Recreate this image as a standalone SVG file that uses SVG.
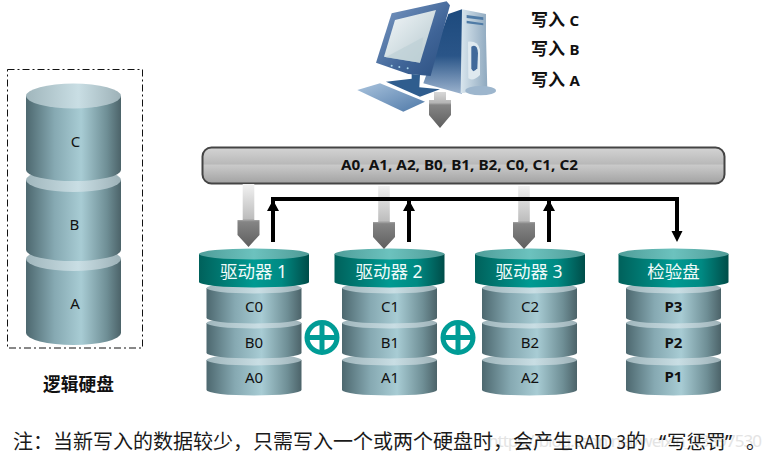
<svg xmlns="http://www.w3.org/2000/svg" width="770" height="455" viewBox="0 0 770 455">
<style>
text{font-family:"Noto Sans","Noto Sans CJK SC",sans-serif;fill:#111}
.m{text-anchor:middle}
.d{font-size:15px}
.b{font-weight:700}
.h{font-size:17.5px;fill:#f2fbfa}
.n{font-size:20px;fill:#1a1a1a}
.blk{fill:none;stroke:#000;stroke-width:4}
.ah{fill:#000}
.x{fill:none;stroke:#009c96;stroke-width:5}
</style>
<defs>
<linearGradient id="gb"><stop offset="0" stop-color="#4d686f"/><stop offset=".3" stop-color="#86a9b2"/><stop offset=".58" stop-color="#a8ccd4"/><stop offset=".85" stop-color="#6f8f96"/><stop offset="1" stop-color="#4c6369"/></linearGradient>
<linearGradient id="gt"><stop offset="0" stop-color="#a0b6bc"/><stop offset=".55" stop-color="#c9dee4"/><stop offset="1" stop-color="#9db1b7"/></linearGradient>
<linearGradient id="hb"><stop offset="0" stop-color="#00615b"/><stop offset=".5" stop-color="#009a92"/><stop offset=".75" stop-color="#008a83"/><stop offset="1" stop-color="#004d49"/></linearGradient>
<linearGradient id="ht"><stop offset="0" stop-color="#4f9d99"/><stop offset=".5" stop-color="#6cc2be"/><stop offset="1" stop-color="#4f9a96"/></linearGradient>
<linearGradient id="ar" x2="0" y2="1"><stop offset="0" stop-color="#f2f2f2"/><stop offset=".55" stop-color="#bdbdbd"/><stop offset=".6" stop-color="#858585"/><stop offset="1" stop-color="#5e5e5e"/></linearGradient>
<linearGradient id="ar2" x2="0" y2="1"><stop offset="0" stop-color="#d8d8d8"/><stop offset=".3" stop-color="#b5b5b5"/><stop offset=".36" stop-color="#858585"/><stop offset="1" stop-color="#5e5e5e"/></linearGradient>
<linearGradient id="bar" x2="0" y2="1"><stop offset="0" stop-color="#d4d4d4"/><stop offset=".45" stop-color="#b9b9b9"/><stop offset=".5" stop-color="#c9c9c9"/><stop offset="1" stop-color="#a2a2a2"/></linearGradient>
<linearGradient id="mon" x2="1" y2="1"><stop offset="0" stop-color="#7f9dc6"/><stop offset=".6" stop-color="#3f6497"/><stop offset="1" stop-color="#2b4f80"/></linearGradient>
<linearGradient id="scr" x2="1" y2="1"><stop offset="0" stop-color="#f4f8fa"/><stop offset="1" stop-color="#b4c7cd"/></linearGradient>
<linearGradient id="tw" x2="0" y2="1"><stop offset="0" stop-color="#1d4a7d"/><stop offset=".55" stop-color="#2a5588"/><stop offset="1" stop-color="#9cb3ce"/></linearGradient>
<linearGradient id="tf"><stop offset="0" stop-color="#d9e6ee"/><stop offset="1" stop-color="#8fa9bf"/></linearGradient>
<linearGradient id="kb" x2="1" y2="1"><stop offset="0" stop-color="#a9c3dd"/><stop offset="1" stop-color="#4f79a8"/></linearGradient>
<g id="disk"><path d="M-47.5 0V30A47.500 5.500 0 0 0 47.500 30V0Z" fill="url(#gb)"/><ellipse cy="0" rx="47.500" ry="5.500" fill="url(#gt)"/></g>
<g id="head"><path d="M-55 0V28A55 5.500 0 0 0 55 28V0Z" fill="url(#hb)"/><ellipse rx="55" ry="5.500" fill="url(#ht)"/></g>
<path id="ga" d="M-5.800 0H5.800V36H11V51L0 63L-11 51V36H-5.800Z" fill="url(#ar)"/>
<g id="xor"><circle r="15" class="x"/><path d="M-15 0H15M0-15V15" class="x"/></g>
</defs>

<g id="computer">
<g transform="translate(340 0) scale(.3333)">
<path d="M325 42L366 28V282L250 250Z" fill="url(#tw)"/>
<path d="M366 28L438 42V105L442 270L362 280Z" fill="url(#tf)"/>
<path d="M380 45L430 52V60L380 54ZM380 62L430 70V76L380 70Z" fill="#4f7ba6"/>
<path d="M384 125Q415 122 420 150L420 225Q400 245 385 235Z" fill="#dfe9ef"/>
<path d="M394 140Q412 130 414 160L412 205Q398 222 394 205Z" fill="#41699a"/>
<ellipse cx="422" cy="272" rx="46" ry="14" fill="#9db6cd"/>
<path d="M155 40L320 4L330 16L272 228L205 222L108 188Z" fill="url(#mon)"/>
<path d="M165 60L288 30L240 188L132 170Z" fill="url(#scr)"/>
<path d="M137 172Q215 130 250 112L240 188Z" fill="#bdd0d5" opacity=".7"/>
<path d="M215 222L240 225L238 262L300 268L240 290L138 245L215 236Z" fill="#2f5d8e"/>
<path d="M52 270L120 250L255 305L190 335Z" fill="url(#kb)"/>
<circle cx="155" cy="197" r="3" fill="#a7d3e8"/><circle cx="178" cy="201" r="3" fill="#a7d3e8"/><circle cx="203" cy="205" r="3" fill="#a7d3e8"/>
</g>
</g>
<g id="write-labels">
<text x="531" y="26" font-size="17" class="b">写入 <tspan font-size="15">C</tspan></text>
<text x="531" y="55" font-size="17" class="b">写入 <tspan font-size="15">B</tspan></text>
<text x="531" y="86" font-size="17" class="b">写入 <tspan font-size="15">A</tspan></text>
</g>

<g id="logical-disk">
<rect x="7.500" y="69.500" width="135" height="278.500" fill="none" stroke="#111" stroke-width="1" stroke-dasharray="7 3 2 3"/>
<path d="M26 259V333A47.500 12 0 0 0 121 333V259Z" fill="url(#gb)"/><ellipse cx="73.500" cy="259" rx="47.500" ry="12" fill="url(#gt)"/>
<path d="M26 180V250A47.500 11 0 0 0 121 250V180Z" fill="url(#gb)"/><ellipse cx="73.500" cy="180" rx="47.500" ry="12" fill="url(#gt)"/>
<path d="M26 96V170A47.500 11 0 0 0 121 170V96Z" fill="url(#gb)"/><ellipse cx="73.500" cy="96" rx="47.500" ry="12.500" fill="url(#gt)"/>
<text x="75.500" y="147" class="d m">C</text><text x="74.500" y="230" class="d m">B</text><text x="75" y="309" class="d m">A</text>
<text x="78.500" y="391" font-size="17.700" class="b m">逻辑硬盘</text>
</g>

<g id="bus">
<rect x="202.500" y="147.500" width="522" height="36" rx="9" fill="url(#bar)" stroke="#444" stroke-width="2"/>
<text x="459.500" y="170" font-size="14" class="b m" textLength="237" lengthAdjust="spacingAndGlyphs">A0, A1, A2, B0, B1, B2, C0, C1, C2</text>
</g>

<g id="drive1">
<use href="#disk" x="254" y="360"/><use href="#disk" x="254" y="323"/><use href="#disk" x="254" y="288"/><use href="#head" x="254" y="254"/>
<text x="253.500" y="278" class="h m">驱动器 1</text>
<text x="254" y="312" class="d m">C0</text><text x="254" y="348" class="d m">B0</text><text x="254" y="383" class="d m">A0</text>
</g>
<g id="drive2">
<use href="#disk" x="389.500" y="360"/><use href="#disk" x="389.500" y="323"/><use href="#disk" x="389.500" y="288"/><use href="#head" x="389.500" y="254"/>
<text x="389" y="278" class="h m">驱动器 2</text>
<text x="390" y="312" class="d m">C1</text><text x="390" y="348" class="d m">B1</text><text x="390" y="383" class="d m">A1</text>
</g>
<g id="drive3">
<use href="#disk" x="529.500" y="360"/><use href="#disk" x="529.500" y="323"/><use href="#disk" x="529.500" y="288"/><use href="#head" x="530" y="254"/>
<text x="529" y="278" class="h m">驱动器 3</text>
<text x="530" y="312" class="d m">C2</text><text x="530" y="348" class="d m">B2</text><text x="530" y="383" class="d m">A2</text>
</g>
<g id="parity">
<use href="#disk" x="673.500" y="360"/><use href="#disk" x="673.500" y="323"/><use href="#disk" x="673.500" y="288"/><use href="#head" x="673.500" y="254"/>
<text x="673.500" y="278" class="h m">检验盘</text>
<text x="673.500" y="312" class="d b m">P3</text><text x="673.500" y="348" class="d b m">P2</text><text x="673.500" y="382" class="d b m">P1</text>
</g>
<g id="xor1"><use href="#xor" x="322" y="337.500"/></g>
<g id="xor2"><use href="#xor" x="458" y="337.500"/></g>

<g id="connectors">
<path d="M434 92H446V100H451V115L440 128L429 115V100H434Z" fill="url(#ar2)"/>
<use href="#ga" x="248.500" y="184"/>
<use href="#ga" x="384" y="186"/>
<use href="#ga" x="524" y="186"/>
<path class="blk" d="M273 242V199H677V233M409 242V199M549 242V199"/>
<path class="ah" d="M273 200L279 211H267ZM409 200L415 211H403ZM549 200L555 211H543ZM677 242L671.500 231H682.500Z"/>
</g>

<g id="note">
<text x="488" y="447" font-size="17" style="fill:#e4e4e4" textLength="274">https://blog.csdn.net/weixin_43897530</text>
<text x="13" y="449" class="n">注：当新写入的数据较少，只需写入一个或两个硬盘时，会产生</text>
<text x="574" y="449" class="n" textLength="52" lengthAdjust="spacingAndGlyphs">RAID 3</text>
<text x="626" y="449" class="n">的</text>
<text x="659" y="449" class="n">“</text>
<text x="667" y="449" class="n" style="font-size:19.500px">写惩罚</text>
<text x="725" y="449" class="n">”</text>
<text x="746" y="449" class="n">。</text>
</g>
</svg>
